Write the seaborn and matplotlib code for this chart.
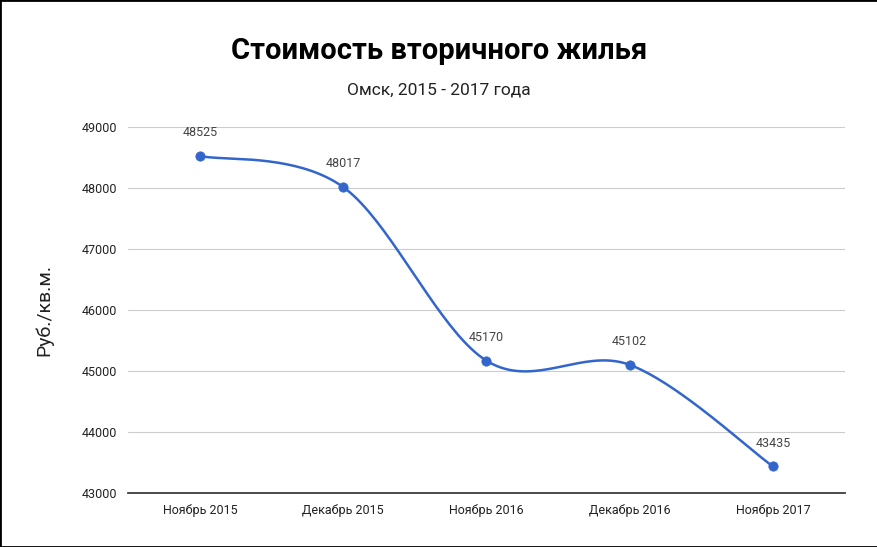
import matplotlib
matplotlib.use("Agg")
import matplotlib.pyplot as plt
import seaborn as sns
import numpy as np
import pandas as pd

categories = ["Ноябрь 2015", "Декабрь 2015", "Ноябрь 2016", "Декабрь 2016", "Ноябрь 2017"]
values = [48525, 48017, 45170, 45102, 43435]
yticks = [43000, 44000, 45000, 46000, 47000, 48000, 49000]

sns.set_theme(style="white")
plt.rcParams['font.family'] = ['Roboto', 'DejaVu Sans']

fig = plt.figure(figsize=(8.78, 5.47), dpi=100)
ax = fig.add_axes([0.146, 0.0987, 0.816, 0.669])
fig.patches.append(plt.Rectangle((0, 0), 1, 1, transform=fig.transFigure,
                                 fill=False, edgecolor='black', linewidth=2))

df = pd.DataFrame({"x": np.arange(len(values)), "y": values})

# smooth curve (Catmull-Rom through the data points)
xs = df["x"].to_numpy(float); ys = df["y"].to_numpy(float)
px = np.concatenate([[xs[0]], xs, [xs[-1]]]); py = np.concatenate([[ys[0]], ys, [ys[-1]]])
cx, cy = [], []
for i in range(1, len(px) - 2):
    t = np.linspace(0, 1, 40)
    for arr, out in ((px, cx), (py, cy)):
        p0, p1, p2, p3 = arr[i-1], arr[i], arr[i+1], arr[i+2]
        m1 = (p2 - p0) / 2; m2 = (p3 - p1) / 2
        h00 = 2*t**3 - 3*t**2 + 1; h10 = t**3 - 2*t**2 + t
        h01 = -2*t**3 + 3*t**2; h11 = t**3 - t**2
        out.extend(h00*p1 + h10*m1 + h01*p2 + h11*m2)
ax.plot(cx, cy, color="#3366cc", linewidth=1.8, zorder=3)
sns.scatterplot(data=df, x="x", y="y", ax=ax, color="#3366cc", s=45,
                edgecolor="#3366cc", zorder=4)

for x, y in zip(df["x"], df["y"]):
    ax.annotate(str(y), (x, y), xytext=(0, 12), textcoords="offset points",
                ha="center", va="bottom", fontsize=9, color="#444444")

ax.set_xlim(-0.5, len(values) - 0.5)
ax.set_ylim(43000, 49000)
ax.set_yticks(yticks)
ax.set_yticklabels([str(v) for v in yticks], fontsize=9, color="#222222")
ax.set_xticks(range(len(categories)))
ax.set_xticklabels(categories, fontsize=9, color="#222222")
ax.grid(axis="y", color="#cccccc", linewidth=0.8)
ax.tick_params(length=0, pad=8)
for s in ["top", "right", "left"]:
    ax.spines[s].set_visible(False)
ax.spines["bottom"].set_color("#333333")
ax.set_xlabel("")
ax.set_ylabel("Руб./кв.м.", fontsize=14, color="#222222", labelpad=20)

fig.text(0.5, 0.907, "Стоимость вторичного жилья", ha="center", va="center",
         fontsize=21, fontweight="bold", color="black")
fig.text(0.5, 0.835, "Омск, 2015 - 2017 года", ha="center", va="center",
         fontsize=12.5, color="#222222")

fig.savefig("out.png", dpi=100)
